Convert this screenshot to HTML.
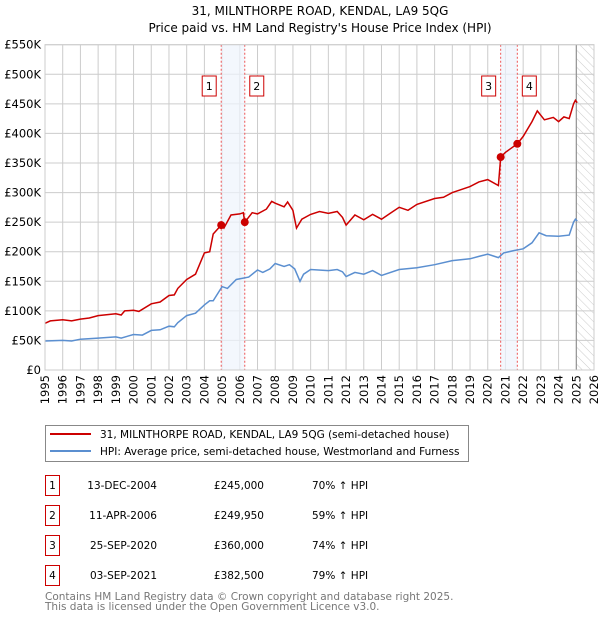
<!DOCTYPE html>
<html><head><meta charset="utf-8"><style>
body{margin:0;background:#fff;font-family:"DejaVu Sans","Liberation Sans",sans-serif;}
svg text{font-family:"DejaVu Sans","Liberation Sans",sans-serif;}
</style></head><body>
<svg id="chart" width="600" height="620" xmlns="http://www.w3.org/2000/svg">
<defs><pattern id="hatch" patternUnits="userSpaceOnUse" width="6" height="6" patternTransform="rotate(-45)"><line x1="0" y1="0" x2="0" y2="6" stroke="#ccc" stroke-width="1"/></pattern></defs>
<text x="320" y="15" text-anchor="middle" font-size="12">31, MILNTHORPE ROAD, KENDAL, LA9 5QG</text>
<text x="320" y="32" text-anchor="middle" font-size="12">Price paid vs. HM Land Registry's House Price Index (HPI)</text>
<g id="grid"></g><g id="bands"></g><g id="series"></g><g id="marks"></g><g id="axes"></g>
<g>
<rect x="45.5" y="425.5" width="423" height="36" fill="#fff" stroke="#888"/>
<line x1="50" y1="434" x2="91" y2="434" stroke="#cc0000" stroke-width="2"/>
<text x="100" y="438" font-size="10.5">31, MILNTHORPE ROAD, KENDAL, LA9 5QG (semi-detached house)</text>
<line x1="50" y1="451" x2="91" y2="451" stroke="#5b8fd0" stroke-width="2"/>
<text x="100" y="455" font-size="10.5">HPI: Average price, semi-detached house, Westmorland and Furness</text>
</g>
<g id="table" font-size="10.5"></g>
<text x="45" y="600" font-size="10.5" fill="#777">Contains HM Land Registry data © Crown copyright and database right 2025.</text>
<text x="45" y="610" font-size="10.5" fill="#777">This data is licensed under the Open Government Licence v3.0.</text>
</svg>
<script>
const yTicks=[0,50,100,150,200,250,300,350,400,450,500,550];
const years=[1995,1996,1997,1998,1999,2000,2001,2002,2003,2004,2005,2006,2007,2008,2009,2010,2011,2012,2013,2014,2015,2016,2017,2018,2019,2020,2021,2022,2023,2024,2025,2026];
const hpiT=[1995,1996,1996.5,1997,1998,1999,1999.3,2000,2000.5,2001,2001.5,2002,2002.3,2002.5,2003,2003.5,2004,2004.3,2004.5,2005,2005.3,2005.8,2006.5,2007,2007.3,2007.7,2008,2008.5,2008.8,2009.1,2009.4,2009.6,2010,2011,2011.5,2011.8,2012,2012.5,2013,2013.5,2014,2015,2016,2017,2018,2019,2019.5,2020,2020.6,2020.9,2021.5,2022,2022.5,2022.9,2023.3,2024,2024.6,2024.85,2024.95,2025.05];
const hpiV=[49,50,49,52,54,56,54,60,59,67,68,74,73,80,92,96,110,117,117,141,138,153,157,169,165,171,180,175,178,171,150,162,170,168,170,166,158,165,162,168,160,170,173,178,185,188,192,196,190,198,202,205,215,232,227,226,228,250,255,252];
const redT=[1995,1995.3,1996,1996.5,1997,1997.5,1998,1999,1999.3,1999.5,2000,2000.3,2001,2001.5,2002,2002.3,2002.5,2003,2003.5,2004,2004.3,2004.5,2004.95,2005.1,2005.5,2006,2006.2,2006.28,2006.7,2007,2007.5,2007.8,2008,2008.5,2008.7,2009,2009.2,2009.5,2010,2010.5,2011,2011.5,2011.8,2012,2012.5,2013,2013.5,2014,2014.5,2015,2015.5,2016,2017,2017.5,2018,2018.5,2019,2019.5,2020,2020.6,2020.73,2021,2021.67,2022,2022.5,2022.8,2023.2,2023.7,2024,2024.3,2024.6,2024.85,2024.95,2025.05];
const redV=[79,83,85,83,86,88,92,95,93,100,101,99,112,115,126,127,138,153,162,198,200,230,245,240,262,264,266,249.95,266,264,272,285,282,276,284,270,240,255,263,268,265,268,258,245,262,254,263,255,265,275,270,280,290,292,300,305,310,318,322,312,360,368,382.5,395,420,438,423,427,420,428,425,450,456,452];
const saleT=[2004.95,2006.28,2020.73,2021.67];
const saleV=[245,249.95,360,382.5];
const saleLabels=["1","2","3","4"];
const saleDates=["13-DEC-2004","11-APR-2006","25-SEP-2020","03-SEP-2021"];
const salePrices=["£245,000","£249,950","£360,000","£382,500"];
const saleHpi=["70% ↑ HPI","59% ↑ HPI","74% ↑ HPI","79% ↑ HPI"];
const X0=45,X1=594,Y0=370,Y1=44.7;
const xs=t=>X0+(t-1995)*(X1-X0)/31;
const ys=v=>Y0-v*(Y0-Y1)/550;
const NS="http://www.w3.org/2000/svg";
function mk(tag,attrs,parent){const e=document.createElementNS(NS,tag);for(const k in attrs)e.setAttribute(k,attrs[k]);parent.appendChild(e);return e;}
const grid=document.getElementById('grid'),bands=document.getElementById('bands'),series=document.getElementById('series'),marks=document.getElementById('marks'),axes=document.getElementById('axes'),table=document.getElementById('table');
yTicks.forEach(v=>{const l=mk('line',{x1:X0,x2:X1,y1:ys(v),y2:ys(v),stroke:'#ccc'},grid);

const t=mk('text',{x:X0-4,y:ys(v)+4,'text-anchor':'end','font-size':'11.5'},axes);t.textContent=v===0?'£0':'£'+v+'K';
});
years.forEach(y=>{const l=mk('line',{x1:xs(y),x2:xs(y),y1:Y1,y2:Y0,stroke:'#ccc'},grid);

const t=mk('text',{x:0,y:0,'text-anchor':'end','font-size':'11.5',transform:`translate(${xs(y)+4},${Y0+5}) rotate(-90)`},axes);t.textContent=y;
});
const hat=mk('rect',{x:xs(2025),y:Y1,width:X1-xs(2025),height:Y0-Y1,fill:'url(#hatch)'},bands);

mk('line',{x1:xs(2025),x2:xs(2025),y1:Y1,y2:Y0,stroke:'#888'},bands);
[[0,1],[2,3]].forEach(p=>{const r=mk('rect',{x:xs(saleT[p[0]]),y:Y1,width:xs(saleT[p[1]])-xs(saleT[p[0]]),height:Y0-Y1,fill:'#eef3fc',opacity:0.7},bands);
});
saleT.forEach((t,i)=>{const l=mk('line',{x1:xs(t),x2:xs(t),y1:Y1,y2:Y0,stroke:'#e55','stroke-dasharray':'2,2'},bands);
});
function path(T,V,c,name){const d=T.map((t,i)=>(i?'L':'M')+xs(t).toFixed(1)+','+ys(V[i]).toFixed(1)).join('');
const p=mk('path',{d:d,fill:'none',stroke:c,'stroke-width':1.5},series);}
path(hpiT,hpiV,'#5b8fd0','hpi-line');path(redT,redV,'#cc0000','price-line');
mk('rect',{x:X0,y:Y1,width:X1-X0,height:Y0-Y1,fill:'none',stroke:'#ccc'},axes);
saleT.forEach((t,i)=>{const c=mk('circle',{cx:xs(t),cy:ys(saleV[i]),r:4,fill:'#cc0000'},marks);

const bx=(i%2===0)?xs(t)-19:xs(t)+5;
const g=mk('g',{},marks);
mk('rect',{x:bx,y:76,width:14,height:20,fill:'#fff',stroke:'#cc0000'},g);
const tx=mk('text',{x:bx+7,y:90,'text-anchor':'middle','font-size':'11'},g);tx.textContent=saleLabels[i];
const row=mk('g',{},table);
const yy=475+i*30;
mk('rect',{x:45.5,y:yy+0.5,width:14,height:20,fill:'#fff',stroke:'#cc0000'},row);
const a=mk('text',{x:52.5,y:yy+14,'text-anchor':'middle'},row);a.textContent=saleLabels[i];
const b=mk('text',{x:157,y:yy+14,'text-anchor':'end'},row);b.textContent=saleDates[i];
const d=mk('text',{x:264,y:yy+14,'text-anchor':'end'},row);d.textContent=salePrices[i];
const e=mk('text',{x:312,y:yy+14},row);e.textContent=saleHpi[i];});
</script>
</body></html>
